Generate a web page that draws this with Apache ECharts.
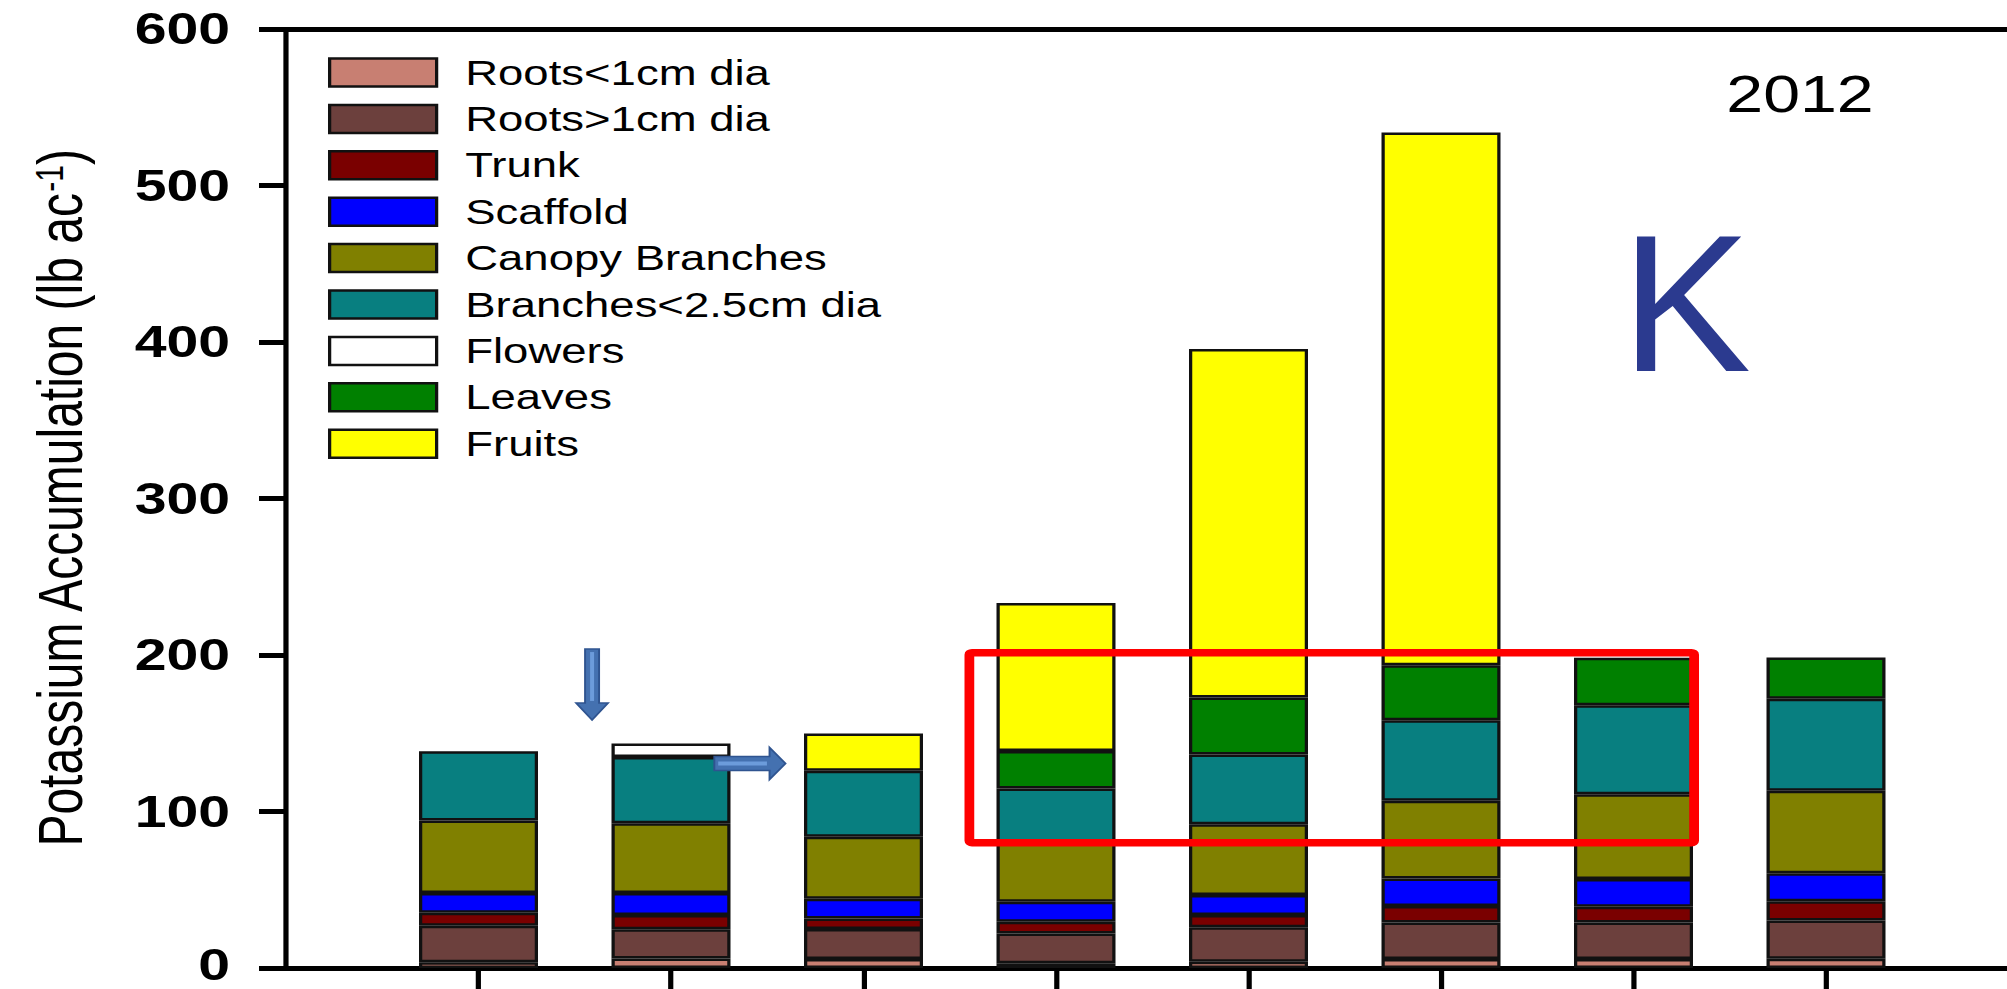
<!DOCTYPE html>
<html>
<head>
<meta charset="utf-8">
<script src="https://cdn.jsdelivr.net/npm/echarts@6/dist/echarts.min.js"></script>
<style>
  html, body { margin: 0; padding: 0; background: #ffffff; overflow: hidden; width: 2007px; height: 989px; }
  #chart { position: absolute; left: 0; top: 0; height: 989px; transform-origin: 0 0; }
</style>
</head>
<body>
<div id="chart"></div>
<script>
// Sampling dates (labels are below the visible frame)
const categories = ['1', '2', '3', '4', '5', '6', '7', '8'];

// Potassium content per tissue, lb/ac, stacked from the ground up
const rootsSmall    = [3.6, 6.0, 5.7, 3.0, 4.0, 5.7, 5.7, 5.9];
const rootsLarge    = [23.4, 18.7, 19.2, 19.1, 22.0, 23.4, 23.4, 24.5];
const trunk         = [8.3, 9.1, 6.8, 7.5, 7.8, 10.5, 10.0, 12.3];
const scaffold      = [12.7, 14.2, 12.5, 12.7, 12.8, 17.6, 17.7, 17.9];
const canopy        = [46.2, 44.5, 39.6, 37.7, 45.3, 49.6, 54.3, 52.7];
const branchesSmall = [44.3, 42.4, 42.2, 34.7, 44.5, 51.5, 56.8, 58.7];
const flowers       = [0, 8.5, 0, 0, 0, 0, 0, 0];
const leaves        = [0, 0, 0, 24.0, 36.4, 35.1, 30.4, 26.4];
const fruits        = [0, 0, 23.8, 94.5, 222.7, 340.4, 0, 0];

const seriesNames = ['Roots<1cm dia', 'Roots>1cm dia', 'Trunk', 'Scaffold', 'Canopy Branches',
                     'Branches<2.5cm dia', 'Flowers', 'Leaves', 'Fruits'];
const seriesValues = [rootsSmall, rootsLarge, trunk, scaffold, canopy, branchesSmall, flowers, leaves, fruits];
const seriesColors = ['#C87F72', '#6C403D', '#7A0000', '#0000FF', '#808000',
                      '#087F80', '#FFFFFF', '#008000', '#FFFF00'];

const yMin = 0, yMax = 600, yStep = 100;
const yearLabel = '2012';
const elementLabel = 'K';

// The whole figure is drawn in a narrower box and widened horizontally
const PAGE_W = 2007, PAGE_H = 989;
const CW = 1544;
const S = PAGE_W / CW;
const hx = v => v / S;   // horizontal page pixels -> drawing pixels

const FONT = "'Liberation Sans', Arial, Helvetica, sans-serif";

const el = document.getElementById('chart');
el.style.width = CW + 'px';
el.style.transform = 'scaleX(' + S + ')';

const chart = echarts.init(el, null, { renderer: 'svg', width: CW, height: PAGE_H });

// one empty slot on either side so the bars sit on interior ticks
const axisCats = [' ', ...categories, '  '];
const lastSlot = axisCats.length - 1;

const series = seriesNames.map((name, k) => ({
  name: name,
  type: 'bar',
  stack: 'total',
  barWidth: hx(119),
  data: ['-', ...seriesValues[k].map(v => (v > 0 ? v : '-')), '-'],
  itemStyle: { color: seriesColors[k], borderColor: '#111111', borderWidth: 2.5 },
  emphasis: { disabled: true },
  silent: true
}));

const tickFont = { fontFamily: FONT, fontWeight: 'bold', fontSize: 44, color: '#000000' };

chart.setOption({
  animation: false,
  backgroundColor: '#ffffff',
  grid: {
    left: hx(286), top: 29, width: hx(192.5) * lastSlot, height: 939,
    containLabel: false,
    outerBoundsMode: 'none'
  },
  legend: {
    orient: 'vertical',
    left: hx(328),
    top: 55,
    padding: 0,
    icon: 'rect',
    itemWidth: hx(107),
    itemHeight: 28,
    itemGap: 11.4,
    selectedMode: false,
    data: seriesNames,
    itemStyle: { borderColor: '#111111', borderWidth: 2.5 },
    textStyle: { fontFamily: FONT, fontSize: 35, color: '#000000', padding: [0, 0, 0, 17] }
  },
  xAxis: [
    {
      type: 'category',
      data: axisCats,
      boundaryGap: false,
      axisLine: { show: true, lineStyle: { color: '#000000', width: 5 } },
      axisTick: {
        show: true,
        length: 30,
        interval: (i) => i > 0 && i < lastSlot,
        lineStyle: { color: '#000000', width: 4 }
      },
      axisLabel: { show: false },
      splitLine: { show: false }
    },
    {
      type: 'category',
      position: 'top',
      data: axisCats,
      boundaryGap: false,
      axisLine: { show: true, lineStyle: { color: '#000000', width: 5 } },
      axisTick: { show: false },
      axisLabel: { show: false },
      splitLine: { show: false }
    }
  ],
  yAxis: {
    type: 'value',
    min: yMin,
    max: yMax,
    interval: yStep,
    axisLine: { show: true, lineStyle: { color: '#000000', width: 4 } },
    axisTick: { show: true, inside: false, length: hx(27), lineStyle: { color: '#000000', width: 5 } },
    axisLabel: {
      ...tickFont,
      lineHeight: 34,
      margin: 43,
      // the baseline label sits right on the lower page edge; lift it a touch
      formatter: (v) => (v === yMin ? '{base|' + v + '}' : String(v)),
      rich: { base: { ...tickFont, lineHeight: 34, padding: [0, 0, 6, 0] } }
    },
    splitLine: { show: false },
    name: 'Potassium Accumulation (lb ac{sup|-1})',
    nameLocation: 'middle',
    nameRotate: 90,
    nameGap: 149,
    nameTextStyle: {
      fontFamily: FONT, fontSize: 48, color: '#000000',
      rich: {
        sup: { fontFamily: FONT, fontSize: 30, color: '#000000', verticalAlign: 'top', lineHeight: 30 }
      }
    }
  },
  series: series
});

// Callouts placed in data space: highlight box and the two pointers
const x0 = chart.convertToPixel({ xAxisIndex: 0 }, 0);
const x1 = chart.convertToPixel({ xAxisIndex: 0 }, 1);
const xAt = p => x0 + p * (x1 - x0);
const yAt = v => chart.convertToPixel({ yAxisIndex: 0 }, v);

const boxFrom = [3.55, 201.5], boxTo = [7.315, 80.0];
const downArrow = { at: 1.59, from: 203.8, to: 158.5 };
const rightArrow = { from: 2.225, to: 2.595, at: 130.7 };

const arrowFill = '#4471B0', arrowEdge = '#2F5490', arrowGlow = '#6C9CDB';

const dcx = xAt(downArrow.at), dTop = yAt(downArrow.from), dTip = yAt(downArrow.to);
const dHead = 17, dShaft = hx(7), dWide = hx(16);
const downPts = [
  [dcx - dShaft, dTop], [dcx + dShaft, dTop], [dcx + dShaft, dTip - dHead], [dcx + dWide, dTip - dHead],
  [dcx, dTip], [dcx - dWide, dTip - dHead], [dcx - dShaft, dTip - dHead]
];

const rxs = xAt(rightArrow.from), rxt = xAt(rightArrow.to), ryc = yAt(rightArrow.at);
const rHead = hx(16), rShaft = 7, rWide = 16;
const rightPts = [
  [rxs, ryc - rShaft], [rxt - rHead, ryc - rShaft], [rxt - rHead, ryc - rWide], [rxt, ryc],
  [rxt - rHead, ryc + rWide], [rxt - rHead, ryc + rShaft], [rxs, ryc + rShaft]
];

const bxl = xAt(boxFrom[0]), bxr = xAt(boxTo[0]), byt = yAt(boxFrom[1]), byb = yAt(boxTo[1]);

chart.setOption({
  graphic: {
    elements: [
      {
        type: 'text', z: 100, x: hx(1800), y: 94.5,
        style: { text: yearLabel, fontFamily: FONT, fontSize: 51, fill: '#000000', align: 'center', verticalAlign: 'middle' }
      },
      {
        type: 'text', z: 100, x: hx(1686), y: 303, scaleX: 1 / S,
        style: { text: elementLabel, fontFamily: FONT, fontSize: 195, fill: '#2B3A8F', align: 'center', verticalAlign: 'middle' }
      },
      {
        type: 'rect', z: 100,
        shape: { x: bxl, y: byt, width: bxr - bxl, height: byb - byt, r: 2 },
        style: { fill: 'none', stroke: '#FF0000', lineWidth: 7.5 }
      },
      {
        type: 'polygon', z: 101,
        shape: { points: downPts },
        style: { fill: arrowFill, stroke: arrowEdge, lineWidth: 1.5 }
      },
      {
        type: 'line', z: 102,
        shape: { x1: dcx, y1: dTop + 3, x2: dcx, y2: dTip - dHead - 2 },
        style: { stroke: arrowGlow, lineWidth: hx(4) }
      },
      {
        type: 'polygon', z: 101,
        shape: { points: rightPts },
        style: { fill: arrowFill, stroke: arrowEdge, lineWidth: 1.5 }
      },
      {
        type: 'line', z: 102,
        shape: { x1: rxs + 3, y1: ryc, x2: rxt - rHead - 2, y2: ryc },
        style: { stroke: arrowGlow, lineWidth: 4 }
      }
    ]
  }
});
</script>
</body>
</html>
